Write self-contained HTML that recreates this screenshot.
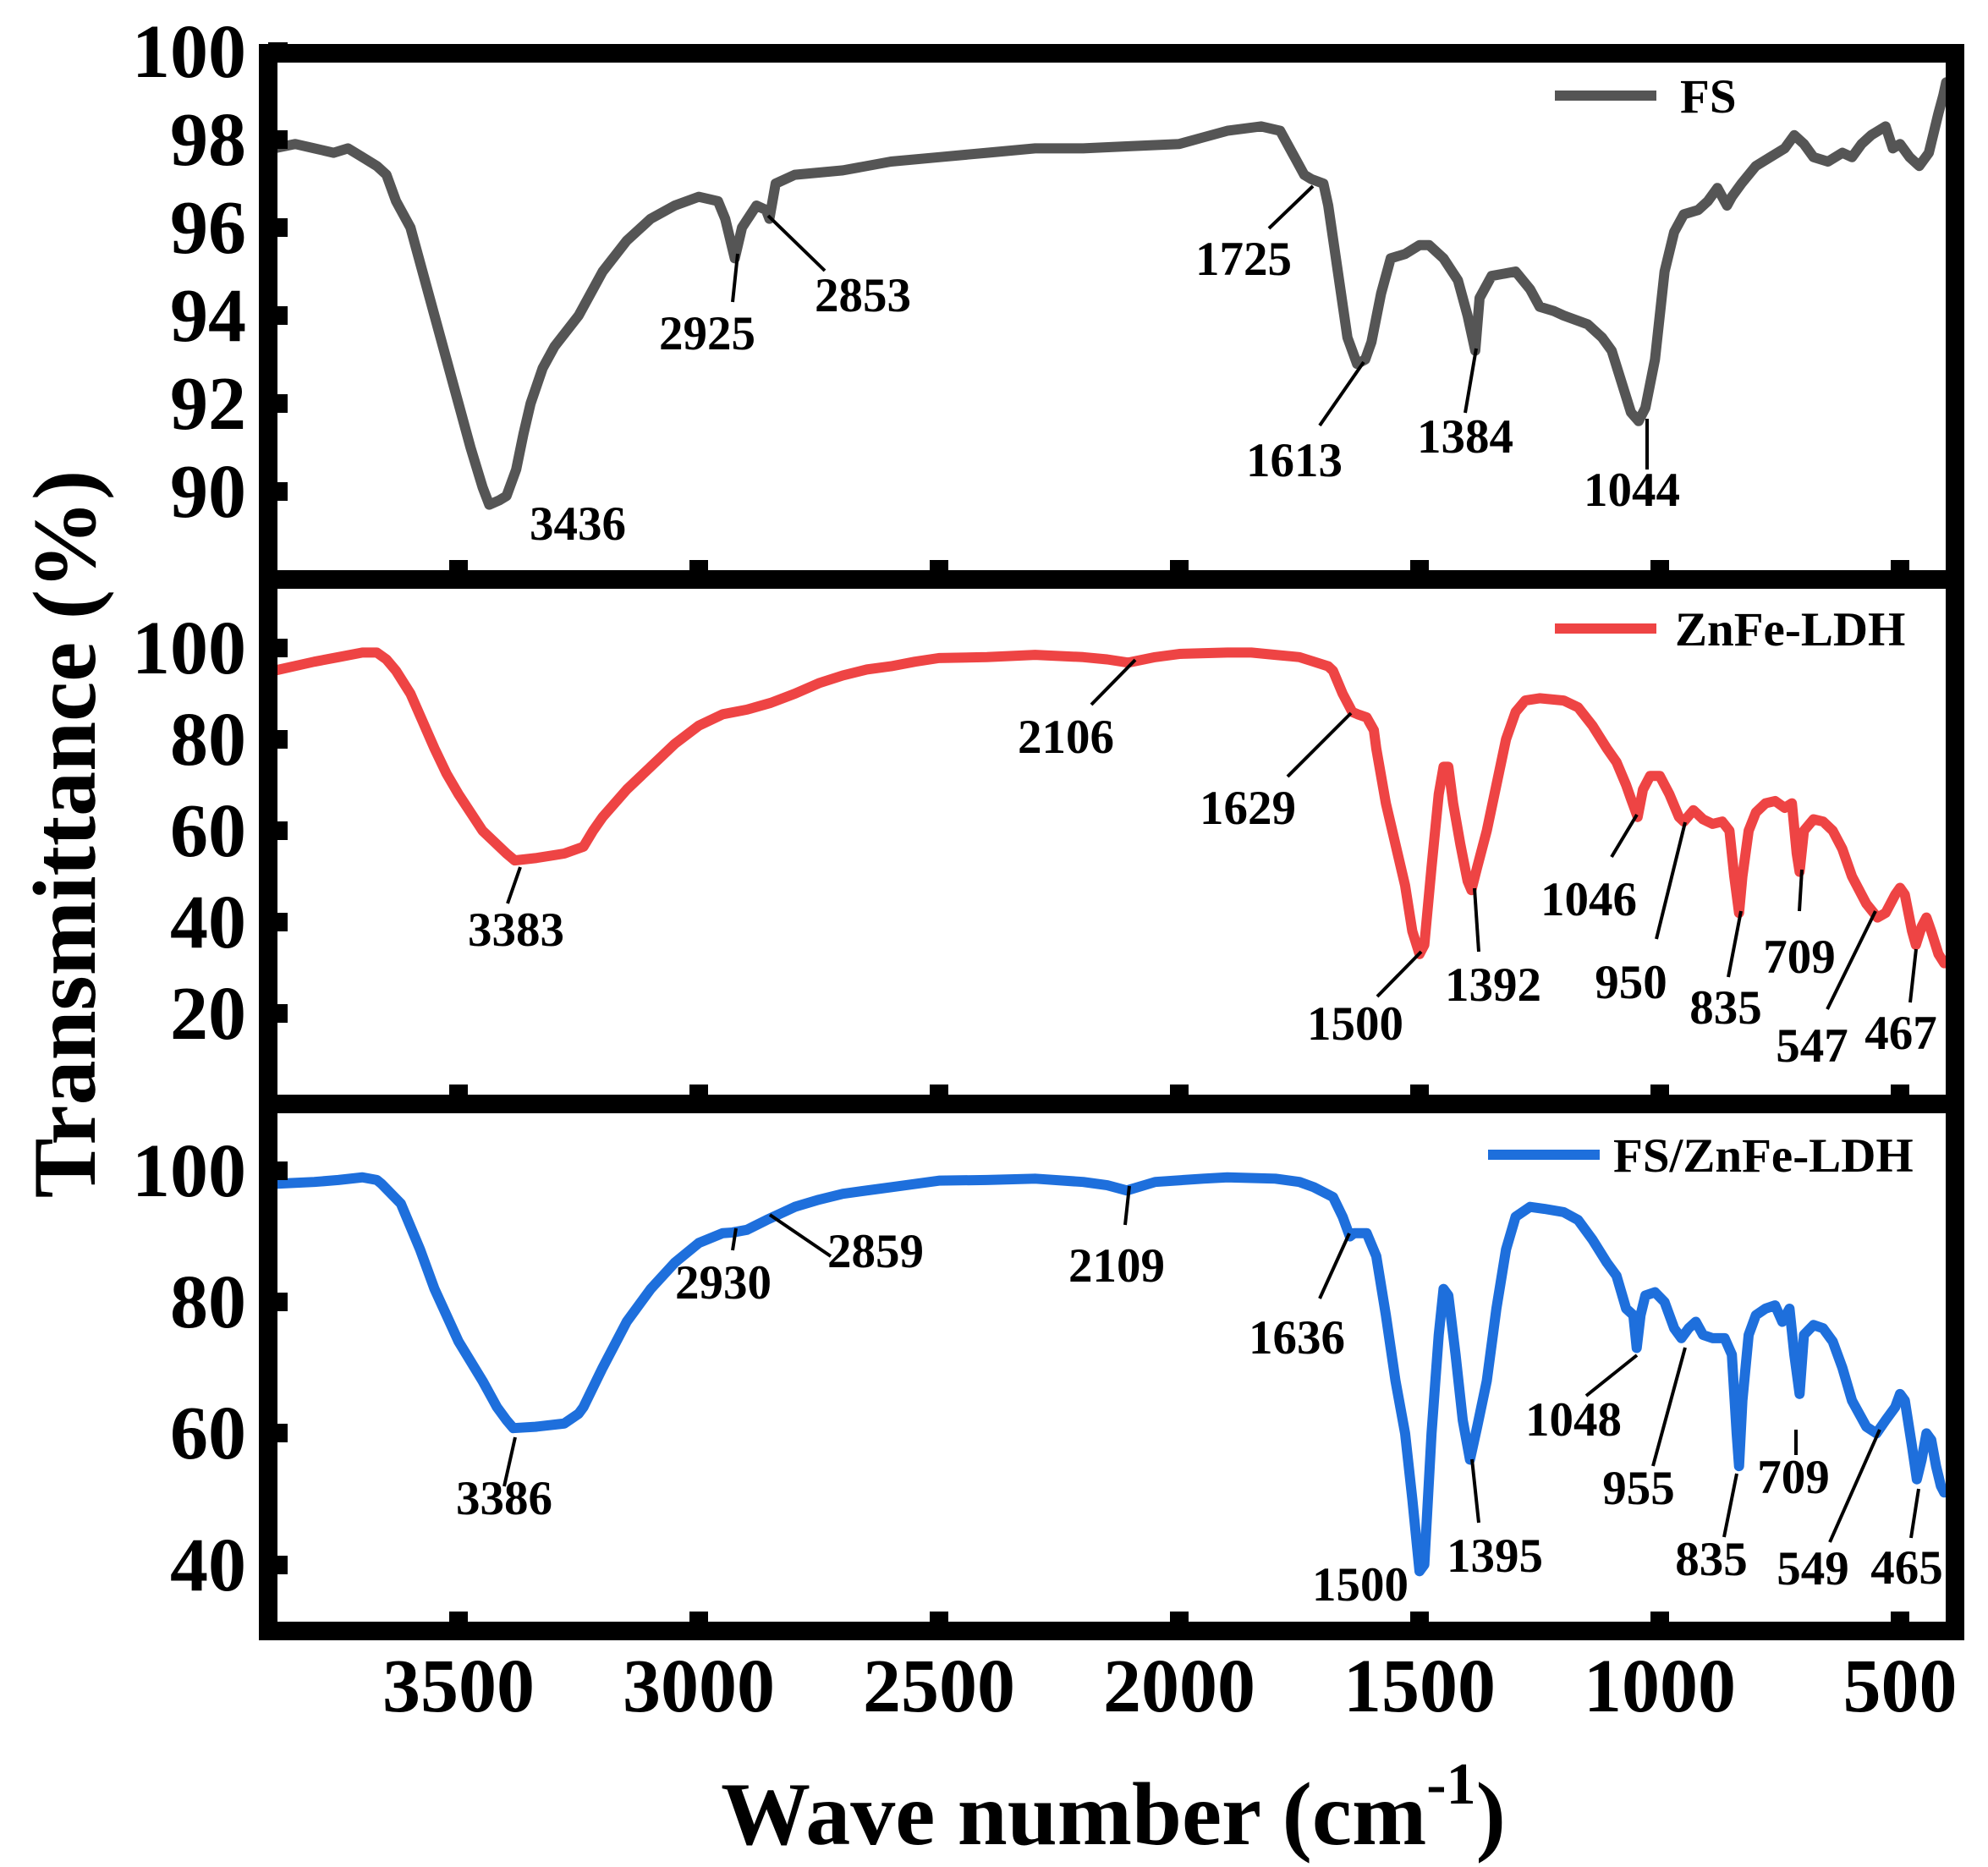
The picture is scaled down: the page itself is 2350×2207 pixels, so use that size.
<!DOCTYPE html>
<html><head><meta charset="utf-8"><style>
html,body{margin:0;padding:0;background:#fff}
svg{display:block}
text{font-family:"Liberation Serif",serif;font-weight:bold;fill:#000}
.tk{font-size:90px}
.an{font-size:57px}
.ld{stroke:#000;stroke-width:4}
.cv{fill:none;stroke-width:12;stroke-linejoin:round;stroke-linecap:round;vector-effect:non-scaling-stroke}
</style></head><body>
<svg width="2350" height="2207" viewBox="0 0 2350 2207" xmlns="http://www.w3.org/2000/svg">
<defs>
<clipPath id="c1"><rect x="328" y="74" width="1972" height="600"/></clipPath>
<clipPath id="c2"><rect x="328" y="696" width="1972" height="598"/></clipPath>
<clipPath id="c3"><rect x="328" y="1316" width="1972" height="601"/></clipPath>
</defs>
<rect width="2350" height="2207" fill="#fff"/>

<!-- Panel 1 curve -->
<g clip-path="url(#c1)"><g transform="matrix(-0.568 0 0 -52 2530 5261)">
<polyline class="cv" stroke="#555555" points="3885,97.8 3840,97.9 3800,97.8 3760,97.7 3730,97.8 3700,97.6 3670,97.4 3650,97.2 3630,96.6 3600,96 3575,95 3550,94 3525,93 3500,92 3475,91 3450,90.1 3436,89.7 3415,89.8 3400,89.9 3380,90.5 3365,91.3 3350,92 3325,92.8 3300,93.3 3250,94 3200,95 3150,95.7 3100,96.2 3050,96.5 3000,96.7 2960,96.6 2945,96.2 2925,95.3 2910,96 2880,96.5 2860,96.4 2853,96.2 2840,97 2800,97.2 2700,97.3 2600,97.5 2500,97.6 2400,97.7 2300,97.8 2200,97.8 2100,97.85 2000,97.9 1950,98.05 1900,98.2 1830,98.3 1790,98.2 1760,97.6 1740,97.2 1725,97.1 1700,97 1690,96.5 1670,95 1650,93.5 1630,92.9 1613,93 1600,93.4 1580,94.5 1560,95.3 1530,95.4 1500,95.6 1480,95.6 1450,95.3 1420,94.8 1400,94 1390,93.5 1384,93.2 1375,94.4 1350,94.9 1300,95 1270,94.6 1250,94.2 1220,94.1 1200,94 1150,93.8 1120,93.5 1100,93.2 1080,92.5 1060,91.8 1044,91.6 1030,91.9 1010,93 990,95 970,95.9 950,96.3 920,96.4 900,96.6 880,96.9 860,96.5 850,96.7 830,97 800,97.4 770,97.6 740,97.8 720,98.1 700,97.9 680,97.6 650,97.5 620,97.7 600,97.6 580,97.9 560,98.1 530,98.3 515,97.8 500,97.9 480,97.6 460,97.4 440,97.7 420,98.6 410,99 404,99.3"/>
</g></g>

<!-- Panel 2 curve -->
<g clip-path="url(#c2)"><g transform="matrix(-0.568 0 0 -5.4 2530 1306)">
<polyline class="cv" stroke="#EE4444" points="3885,95 3800,97 3750,98 3700,99 3670,99 3650,97.5 3630,95 3600,90 3575,84 3550,78 3525,72.5 3500,68 3450,60 3400,55 3383,53.5 3340,54 3280,55 3240,56.5 3220,60 3200,63 3150,69 3100,74 3050,79 3000,83 2950,85.5 2900,86.5 2850,88 2800,90 2750,92.3 2700,94 2650,95.3 2600,96 2550,97 2500,97.8 2400,98 2300,98.5 2200,98 2150,97.5 2106,96.8 2050,98 2000,98.7 1900,99 1850,99 1800,98.5 1750,98 1720,97 1690,96 1680,95 1660,90 1640,86 1629,85.5 1610,84.8 1595,82 1590,78 1570,66 1550,57 1530,48 1515,38 1500,33 1490,35 1475,52 1460,68 1450,74 1440,74 1430,66 1415,57 1400,49 1392,47 1380,52 1360,60 1340,70 1320,80 1300,86 1280,88.5 1250,89 1200,88.5 1170,87 1140,83 1110,78 1090,75 1070,70 1060,67 1046,63 1035,69 1020,72 1000,72 980,68 960,63 950,62 930,64.5 910,62.5 890,61.5 870,62 855,60 845,50 835,42 828,50 815,60 800,64 780,66 760,66.5 740,65 725,66 715,55 709,51 700,60 680,62.5 660,62 640,60 620,56 600,50 570,44 547,41 530,42 510,46 500,47.5 490,46 475,38 467,35 455,39 445,41 435,38 420,33 408,31"/>
</g></g>

<!-- Panel 3 curve -->
<g clip-path="url(#c3)"><g transform="matrix(-0.568 0 0 -7.76 2530 2160)">
<polyline class="cv" stroke="#1E6FDC" points="3885,98 3800,98.3 3750,98.6 3700,99 3670,98.6 3660,98 3620,95 3580,88 3550,82 3500,74 3450,68 3420,64 3400,62 3386,60.8 3340,61 3280,61.5 3250,63 3240,64 3200,70 3150,77 3100,82 3050,86 3000,89 2950,90.5 2930,90.6 2900,91 2859,92.5 2800,94.5 2750,95.6 2700,96.5 2600,97.5 2500,98.5 2400,98.6 2300,98.8 2200,98.3 2150,97.8 2109,97 2050,98.3 1950,98.8 1900,99 1800,98.8 1750,98.3 1720,97.5 1680,96 1660,93 1645,90 1636,90.5 1610,90.5 1590,87 1570,78 1550,68 1530,60 1515,50 1500,39 1490,40 1475,60 1460,75 1450,82 1440,81 1425,72 1410,62 1395,56 1380,61 1360,68 1340,79 1320,88 1300,93 1270,94.5 1240,94.2 1200,93.7 1170,92.5 1140,89.5 1110,86 1090,84 1070,79 1055,78 1048,73 1040,78 1030,81 1010,81.5 990,80 970,76 955,74.5 940,76 925,77 910,75 890,74.5 865,74.5 850,72 840,60 835,55 828,65 815,75 800,78 780,79 760,79.5 745,77 730,79 720,72 709,66 700,75 680,76.5 660,76 640,74 620,70 600,65 570,61 549,60 530,62 510,64 500,66 490,65 475,58 465,53 455,56 445,60 435,59 425,55 415,52 408,51"/>
</g></g>

<!-- Frames -->
<g fill="none" stroke="#000" stroke-width="22">
<rect x="317" y="63" width="1994" height="622"/>
<rect x="317" y="685" width="1994" height="620"/>
<rect x="317" y="1305" width="1994" height="623"/>
</g>

<!-- x ticks (inward at bottom of each panel) -->
<g stroke="#000" stroke-width="22">
<path d="M542 685V662M826 685V662M1110 685V662M1394 685V662M1678 685V662M1962 685V662M2246 685V662"/>
<path d="M542 1305V1282M826 1305V1282M1110 1305V1282M1394 1305V1282M1678 1305V1282M1962 1305V1282M2246 1305V1282"/>
<path d="M542 1928V1905M826 1928V1905M1110 1928V1905M1394 1928V1905M1678 1928V1905M1962 1928V1905M2246 1928V1905"/>
<!-- y ticks -->
<path d="M317 61H340M317 165H340M317 269H340M317 373H340M317 477H340M317 581H340"/>
<path d="M317 766H340M317 874H340M317 982H340M317 1090H340M317 1198H340"/>
<path d="M317 1384H340M317 1539H340M317 1694H340M317 1850H340"/>
</g>

<!-- y tick labels -->
<g class="tk" text-anchor="end">
<text x="291" y="91">100</text><text x="291" y="195">98</text><text x="291" y="299">96</text>
<text x="291" y="403">94</text><text x="291" y="507">92</text><text x="291" y="611">90</text>
<text x="291" y="796">100</text><text x="291" y="904">80</text><text x="291" y="1012">60</text>
<text x="291" y="1120">40</text><text x="291" y="1228">20</text>
<text x="291" y="1414">100</text><text x="291" y="1569">80</text><text x="291" y="1724">60</text><text x="291" y="1880">40</text>
</g>
<!-- x tick labels -->
<g class="tk" text-anchor="middle">
<text x="542" y="2023">3500</text><text x="826" y="2023">3000</text><text x="1110" y="2023">2500</text>
<text x="1394" y="2023">2000</text><text x="1678" y="2023">1500</text><text x="1962" y="2023">1000</text><text x="2246" y="2023">500</text>
</g>

<!-- Axis titles -->
<text x="0" y="0" font-size="106" text-anchor="middle" transform="translate(112,986) rotate(-90)">Transmittance (%)</text>
<text x="1316" y="2180" font-size="106" text-anchor="middle">Wave number (cm<tspan font-size="70" dy="-48">-1</tspan><tspan dy="48">)</tspan></text>

<!-- Legends -->
<g stroke-width="12">
<line x1="1838" y1="113" x2="1958" y2="113" stroke="#555555"/>
<line x1="1838" y1="743" x2="1958" y2="743" stroke="#EE4444"/>
<line x1="1759" y1="1365" x2="1891" y2="1365" stroke="#1E6FDC"/>
</g>
<g class="an">
<text x="1986" y="133">FS</text>
<text x="1980" y="763">ZnFe-LDH</text>
<text x="1907" y="1385">FS/ZnFe-LDH</text>
</g>

<!-- leader lines -->
<g class="ld">
<line x1="872" y1="300" x2="866" y2="357"/>
<line x1="908" y1="255" x2="975" y2="320"/>
<line x1="1552" y1="220" x2="1500" y2="270"/>
<line x1="1612" y1="428" x2="1560" y2="503"/>
<line x1="1745" y1="412" x2="1732" y2="488"/>
<line x1="1947" y1="495" x2="1947" y2="555"/>

<line x1="615" y1="1025" x2="600" y2="1068"/>
<line x1="1342" y1="780" x2="1290" y2="833"/>
<line x1="1597" y1="843" x2="1522" y2="918"/>
<line x1="1680" y1="1125" x2="1628" y2="1178"/>
<line x1="1743" y1="1050" x2="1748" y2="1125"/>
<line x1="1935" y1="963" x2="1905" y2="1013"/>
<line x1="1992" y1="972" x2="1958" y2="1110"/>
<line x1="2058" y1="1077" x2="2043" y2="1155"/>
<line x1="2130" y1="1028" x2="2127" y2="1077"/>
<line x1="2217" y1="1077" x2="2160" y2="1193"/>
<line x1="2265" y1="1122" x2="2258" y2="1185"/>

<line x1="609" y1="1699" x2="596" y2="1757"/>
<line x1="870" y1="1452" x2="866" y2="1478"/>
<line x1="910" y1="1436" x2="982" y2="1485"/>
<line x1="1335" y1="1402" x2="1330" y2="1448"/>
<line x1="1595" y1="1458" x2="1560" y2="1535"/>
<line x1="1740" y1="1725" x2="1748" y2="1800"/>
<line x1="1935" y1="1602" x2="1875" y2="1650"/>
<line x1="1992" y1="1593" x2="1954" y2="1733"/>
<line x1="2053" y1="1742" x2="2038" y2="1817"/>
<line x1="2123" y1="1690" x2="2123" y2="1720"/>
<line x1="2222" y1="1690" x2="2163" y2="1823"/>
<line x1="2268" y1="1760" x2="2259" y2="1818"/>
</g>

<!-- annotations -->
<g class="an" text-anchor="middle">
<text x="683" y="638">3436</text>
<text x="836" y="413">2925</text>
<text x="1020" y="368">2853</text>
<text x="1470" y="325">1725</text>
<text x="1530" y="563">1613</text>
<text x="1732" y="535">1384</text>
<text x="1929" y="598">1044</text>

<text x="610" y="1118">3383</text>
<text x="1260" y="890">2106</text>
<text x="1475" y="974">1629</text>
<text x="1602" y="1229">1500</text>
<text x="1765" y="1183">1392</text>
<text x="1878" y="1082">1046</text>
<text x="1928" y="1180">950</text>
<text x="2040" y="1210">835</text>
<text x="2127" y="1150">709</text>
<text x="2142" y="1255">547</text>
<text x="2247" y="1240">467</text>

<text x="596" y="1790">3386</text>
<text x="855" y="1535">2930</text>
<text x="1035" y="1498">2859</text>
<text x="1320" y="1515">2109</text>
<text x="1533" y="1600">1636</text>
<text x="1608" y="1892">1500</text>
<text x="1767" y="1858">1395</text>
<text x="1860" y="1697">1048</text>
<text x="1937" y="1778">955</text>
<text x="2023" y="1862">835</text>
<text x="2120" y="1765">709</text>
<text x="2143" y="1873">549</text>
<text x="2254" y="1872">465</text>
</g>
</svg>
</body></html>
